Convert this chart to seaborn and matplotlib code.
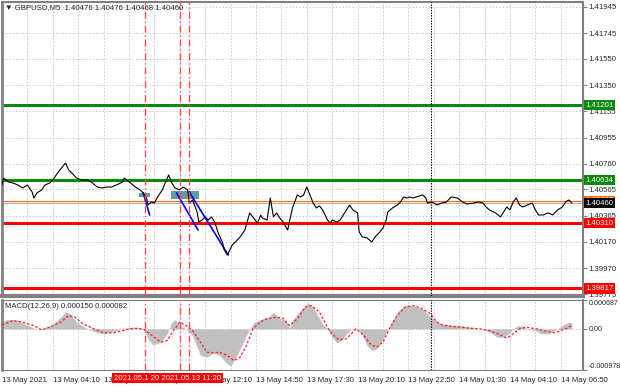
import numpy as np
import pandas as pd
import seaborn as sns
import matplotlib.pyplot as plt
import matplotlib.transforms as mtransforms
from matplotlib.patches import Rectangle

header = "▼ GBPUSD,M5  1.40476 1.40476 1.40468 1.40460"
macd_title = "MACD(12,26,9) 0.000150 0.000082"

# price line (bar index from the first visible bar, close price)
price_bar = [0, 1, 4, 7, 10, 13, 16, 19, 20, 22,
             25, 27, 30, 32, 35, 38, 40, 42, 44, 47,
             50, 54, 57, 60, 63, 66, 69, 72, 76, 77,
             81, 84, 87, 89, 91, 92, 94, 96, 98, 101,
             103, 105, 107, 109, 112, 114, 117, 118, 120, 122,
             123, 124, 126, 128, 130, 132, 134, 136, 139, 140,
             142, 145, 147, 150, 153, 156, 158, 161, 163, 164,
             167, 169, 171, 173, 175, 177, 180, 181, 183, 186,
             188, 190, 192, 194, 196, 198, 200, 202, 205, 207,
             208, 211, 213, 215, 217, 219, 221, 224, 225, 227,
             230, 233, 235, 238, 240, 242, 243, 246, 249, 251,
             253, 255, 257, 259, 261, 265, 267, 268, 271, 274,
             277, 280, 283, 287, 290, 293, 297, 300, 303, 305,
             307, 311, 314, 316, 318, 320, 322, 324, 326, 328,
             331, 334, 336, 338, 341, 344, 347, 350, 353, 355,
             357, 359]
price_val = [1.40598, 1.40651, 1.40621, 1.40613, 1.40598, 1.40576, 1.40598, 1.40545, 1.40500, 1.40538,
             1.40561, 1.40598, 1.40613, 1.40636, 1.40689, 1.40734, 1.40764, 1.40712, 1.40689, 1.40651,
             1.40636, 1.40636, 1.40613, 1.40583, 1.40576, 1.40583, 1.40583, 1.40598, 1.40621, 1.40651,
             1.40613, 1.40583, 1.40561, 1.40538, 1.40500, 1.40447, 1.40470, 1.40462, 1.40508, 1.40561,
             1.40621, 1.40674, 1.40613, 1.40576, 1.40561, 1.40583, 1.40561, 1.40462, 1.40485, 1.40425,
             1.40387, 1.40319, 1.40334, 1.40357, 1.40334, 1.40357, 1.40319, 1.40243, 1.40160, 1.40107,
             1.40070, 1.40145, 1.40168, 1.40206, 1.40258, 1.40387, 1.40357, 1.40311, 1.40372, 1.40349,
             1.40334, 1.40500, 1.40357, 1.40387, 1.40349, 1.40319, 1.40258, 1.40319, 1.40425, 1.40523,
             1.40508, 1.40523, 1.40583, 1.40523, 1.40462, 1.40425, 1.40440, 1.40410, 1.40334, 1.40311,
             1.40334, 1.40319, 1.40334, 1.40372, 1.40410, 1.40447, 1.40410, 1.40387, 1.40243, 1.40206,
             1.40198, 1.40168, 1.40206, 1.40243, 1.40274, 1.40334, 1.40394, 1.40425, 1.40447, 1.40470,
             1.40508, 1.40500, 1.40508, 1.40500, 1.40508, 1.40523, 1.40500, 1.40462, 1.40470, 1.40447,
             1.40462, 1.40470, 1.40508, 1.40500, 1.40470, 1.40455, 1.40462, 1.40470, 1.40462, 1.40432,
             1.40410, 1.40387, 1.40357, 1.40394, 1.40432, 1.40410, 1.40470, 1.40500, 1.40447, 1.40432,
             1.40447, 1.40462, 1.40410, 1.40372, 1.40372, 1.40387, 1.40372, 1.40410, 1.40432, 1.40470,
             1.40485, 1.40462]

# MACD histogram (main line) and signal line
hist_bar = [0, 3, 8, 12, 17, 20, 24, 28, 32, 37, 40, 43, 47, 52, 58, 64, 70, 76, 83, 89,
            92, 95, 100, 104, 107, 109, 112, 116, 120, 125, 129, 133, 137, 142, 144, 148, 152, 156, 159, 164,
            168, 171, 175, 179, 181, 183, 186, 190, 193, 196, 199, 202, 205, 208, 211, 214, 217, 220, 224, 227,
            230, 233, 236, 239, 242, 246, 249, 252, 255, 258, 261, 265, 268, 271, 274, 277, 282, 289, 295, 300,
            304, 307, 312, 316, 319, 322, 325, 328, 331, 336, 340, 344, 347, 350, 353, 357, 359]
hist_val = [0.000159, 0.000222, 0.000222, 0.000159, 0.000079, 0.000016, -0.000024, 0.000040, 0.000119, 0.000278,
            0.000412, 0.000357, 0.000159, 0.000040, -0.000063, -0.000119, -0.000063, 0.000016, 0.000040, 0.0,
            -0.000238, -0.000381, -0.000317, -0.000119, 0.000159, 0.000222, 0.000079, 0.0, -0.000159, -0.000634,
            -0.000674, -0.000571, -0.000634, -0.000833, -0.000888, -0.000634, -0.000317, 0.0, 0.000159, 0.000238,
            0.000278, 0.000397, 0.000254, 0.000198, 0.000024, 0.000198, 0.000357, 0.000515, 0.000619, 0.000515,
            0.000317, 0.000119, 0.0, -0.000198, -0.000333, -0.000278, -0.000119, 0.0, 0.000024, -0.000159,
            -0.000397, -0.000515, -0.000476, -0.000317, -0.000079, 0.000198, 0.000397, 0.000515, 0.000571, 0.000555,
            0.000515, 0.000476, 0.000357, 0.000254, 0.000174, 0.000119, 0.000095, 0.000079, 0.000040, 0.0,
            -0.000024, -0.000079, -0.000198, -0.000198, -0.000119, 0.0, 0.000079, 0.000063, 0.0, -0.000040,
            -0.000119, -0.000119, -0.000063, 0.0, 0.000079, 0.000159, 0.000150]
signal_bar = [0, 7, 13, 20, 25, 30, 37, 42, 46, 51, 58, 64, 70, 76, 83, 89, 94, 100, 104, 108,
              112, 116, 120, 125, 129, 133, 137, 142, 146, 150, 154, 158, 163, 167, 173, 177, 181, 186, 191, 195,
              200, 205, 208, 212, 217, 223, 228, 232, 236, 240, 244, 249, 254, 259, 264, 270, 274, 278, 282, 289,
              295, 301, 307, 314, 318, 322, 326, 330, 337, 343, 348, 352, 356, 359]
signal_val = [0.000095, 0.000198, 0.000159, 0.000079, -0.000024, 0.000040, 0.000159, 0.000317, 0.000278, 0.000119,
              0.0, -0.000095, -0.000095, -0.000040, 0.000016, 0.0, -0.000143, -0.000317, -0.000278, -0.000040,
              0.000159, 0.000079, -0.000040, -0.000317, -0.000555, -0.000571, -0.000555, -0.000634, -0.000753, -0.000674,
              -0.000397, 0.0, 0.000174, 0.000238, 0.000278, 0.000254, 0.000079, 0.000238, 0.000515, 0.000555,
              0.000397, 0.000040, -0.000119, -0.000254, -0.000238, 0.0, -0.000159, -0.000357, -0.000436, -0.000317,
              0.0, 0.000317, 0.000515, 0.000555, 0.000492, 0.000357, 0.000159, 0.000079, 0.000063, 0.000040,
              0.000016, 0.0, -0.000040, -0.000143, -0.000222, -0.000119, 0.0, 0.000040, 0.0, -0.000063,
              -0.000095, -0.000040, 0.000016, 0.000082]

# levels
green_levels = [1.41201, 1.40634]
red_levels = [1.40310, 1.39817]
ask_level = 1.40480
bid_level = 1.40460

# trade markup
trend_bar0 = [89, 110, 118]
trend_p0 = [1.40538, 1.40538, 1.40545]
trend_bar1 = [93, 123.5, 142.5]
trend_p1 = [1.40372, 1.40258, 1.40070]
zone_bar0 = [86, 106.5]
zone_bar1 = [93, 124]
zone_p0 = [1.40508, 1.40493]
zone_p1 = [1.40538, 1.40553]
signal_lines = [90, 112, 118]
day_break = 270

price_ticks = [1.41945, 1.41745, 1.41550, 1.41350, 1.41155, 1.40955, 1.40760,
               1.40565, 1.40365, 1.40170, 1.39970, 1.39775]
macd_ticks = [0.000687, 0.0, -0.000978]
macd_labels = ["0.000687", "0.00", "-0.000978"]
time_ticks = [0, 32, 64, 96, 128, 160, 192, 224, 256, 288, 320, 352]
time_labels = ["13 May 2021", "13 May 04:10", "13 May 06:50", "13 May 09:30",
               "13 May 12:10", "13 May 14:50", "13 May 17:30", "13 May 20:10",
               "13 May 22:50", "14 May 01:30", "14 May 04:10", "14 May 06:50"]
marker_text = "2021.05.1 20 2021.05.13 11:20"

sns.set_style("white")
plt.rcParams["font.family"] = ["Liberation Sans", "DejaVu Sans"]

W, H = 620, 388
fig = plt.figure(figsize=(W / 100, H / 100), dpi=100)


def box(x0, y0, x1, y1):
    return [x0 / W, 1 - y1 / H, (x1 - x0) / W, (y1 - y0) / H]


ax = fig.add_axes(box(2, 2, 583, 296))
ax2 = fig.add_axes(box(2, 300, 583, 370))
fs = 5.6
grey = "#808080"
grid_kw = dict(color="#c8c8c8", ls=(0, (2, 2)), lw=0.6)

for a in (ax, ax2):
    a.set_xlim(0, 366)
    for v in range(0, 366, 16):
        a.axvline(v, zorder=0, **grid_kw)
    for s in a.spines.values():
        s.set_color(grey)
    a.spines["left"].set_linewidth(2)
    a.spines["right"].set_linewidth(1.5)
    a.yaxis.tick_right()
    a.tick_params(axis="y", length=3, width=0.8, color=grey, labelsize=fs, pad=1.2)

# main panel
ax.set_ylim(1.39760, 1.41980)
ax.set_yticks(price_ticks)
ax.set_yticklabels([f"{t:.5f}" for t in price_ticks])
for t in price_ticks:
    ax.axhline(t, zorder=0, **grid_kw)
ax.set_xticks([])
ax.spines["top"].set_linewidth(1.5)
ax.spines["bottom"].set_linewidth(3)

for p in green_levels:
    ax.axhline(p, color="#0a8a0a", lw=2.2, zorder=2)
for p in red_levels:
    ax.axhline(p, color="#ff0000", lw=2.2, zorder=2)
ax.axhline(ask_level, color="#ff6a00", lw=0.8, zorder=2)
ax.axhline(bid_level, color="#b0b0b0", lw=0.8, zorder=2)

for b0, b1, p0, p1 in zip(zone_bar0, zone_bar1, zone_p0, zone_p1):
    ax.add_patch(Rectangle((b0, p0), b1 - b0, p1 - p0, fc="#5f9ea0", ec="none", zorder=3))

for b0, p0, b1, p1 in zip(trend_bar0, trend_p0, trend_bar1, trend_p1):
    ax.plot([b0, b1], [p0, p1], color="#0000ff", lw=1.2, zorder=4)

price_df = pd.DataFrame({"bar": price_bar, "price": price_val})
sns.lineplot(data=price_df, x="bar", y="price", ax=ax, color="black", lw=0.8,
             zorder=5, sort=False)
ax.set_xlabel("")
ax.set_ylabel("")

# MACD panel
ax2.set_ylim(macd_ticks[2], macd_ticks[0])
ax2.set_yticks(macd_ticks)
ax2.set_yticklabels(macd_labels)
ax2.tick_params(axis="y", labelsize=5.1, pad=0.8)
lbls = ax2.get_yticklabels()
lbls[0].set_va("top")
lbls[2].set_va("bottom")
ax2.axhline(0, zorder=0, **grid_kw)
ax2.fill_between(hist_bar, 0, hist_val, color="#c0c0c0", lw=0, zorder=1)
sig_df = pd.DataFrame({"bar": signal_bar, "signal": signal_val})
sns.lineplot(data=sig_df, x="bar", y="signal", ax=ax2, color="#ff2020", lw=0.9,
             linestyle=(0, (2, 1.5)), zorder=3, sort=False)
ax2.set_xlabel("")
ax2.set_ylabel("")
ax2.set_xticks(time_ticks)
ax2.set_xticklabels(time_labels, ha="left")
ax2.tick_params(axis="x", length=3, width=0.8, color=grey, labelsize=fs, pad=2)

for a in (ax, ax2):
    for b in signal_lines:
        a.axvline(b, color="#ff4a4a", lw=1, ls=(0, (5, 2, 1, 2)), zorder=6)
    a.axvline(day_break, color="black", lw=0.8, ls=(0, (1.2, 1.2)), zorder=6)

# price tags on the right scale
tag = mtransforms.blended_transform_factory(ax.transAxes, ax.transData)
tags = [(ask_level, "#ff6a00"), (bid_level, "black")]
tags += [(p, "#0a8a0a") for p in green_levels] + [(p, "#ff0000") for p in red_levels]
for p, c in tags:
    ax.text(1.004, p, f"{p:.5f}", transform=tag, color="white", fontsize=fs,
            va="center", ha="left", clip_on=False, zorder=10,
            bbox=dict(boxstyle="square,pad=0.2", fc=c, ec="none"))

fig.text(5 / W, 1 - 8 / H, header, fontsize=fs, va="center", ha="left")
fig.text(5 / W, 1 - 306 / H, macd_title, fontsize=fs, va="center", ha="left")
fig.text(114 / W, 1 - 378 / H, marker_text, fontsize=fs, color="white", va="center",
         ha="left", zorder=10, bbox=dict(boxstyle="square,pad=0.2", fc="#ff0000", ec="none"))

fig.savefig("out.png", dpi=100, facecolor="white")
